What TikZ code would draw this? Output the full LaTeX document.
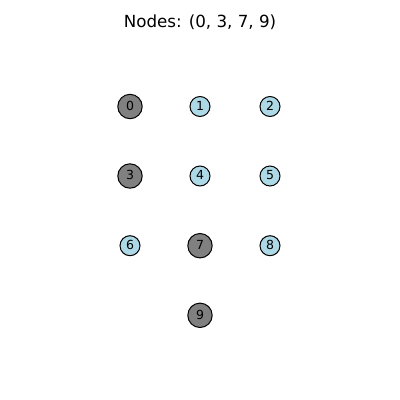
\documentclass[tikz,border=0pt]{standalone}
\usepackage{fontspec}
\setmainfont{DejaVu Sans}
\definecolor{nodeblue}{HTML}{ADD8E6}
\definecolor{nodegray}{HTML}{808080}
\begin{document}
\begin{tikzpicture}[x=1pt,y=-1pt,
  base/.style={circle,draw=black,line width=1pt,inner sep=0pt,font=\fontsize{12.5}{12.5}\selectfont,text=black},
  sel/.style={base,fill=nodegray,minimum size=24.4pt},
  plain/.style={base,fill=nodeblue,minimum size=20pt}]
\useasboundingbox (0,0) rectangle (400,400);
\node[font=\fontsize{16.7}{16.7}\selectfont] (title) at (200,22) {Nodes: (0, 3, 7, 9)};
\node[sel] (n0) at (130,106.5) {\raisebox{1.5pt}{0}};
\node[plain] (n1) at (200,106.5) {\raisebox{1.5pt}{1}};
\node[plain] (n2) at (270,106.5) {\raisebox{1.5pt}{2}};
\node[sel] (n3) at (130,176) {\raisebox{1.5pt}{3}};
\node[plain] (n4) at (200,176) {\raisebox{1.5pt}{4}};
\node[plain] (n5) at (270,176) {\raisebox{1.5pt}{5}};
\node[plain] (n6) at (130,245.7) {\raisebox{1.5pt}{6}};
\node[sel] (n7) at (200,245.7) {\raisebox{1.5pt}{7}};
\node[plain] (n8) at (270,245.7) {\raisebox{1.5pt}{8}};
\node[sel] (n9) at (200,315.3) {\raisebox{1.5pt}{9}};
\end{tikzpicture}
\end{document}
